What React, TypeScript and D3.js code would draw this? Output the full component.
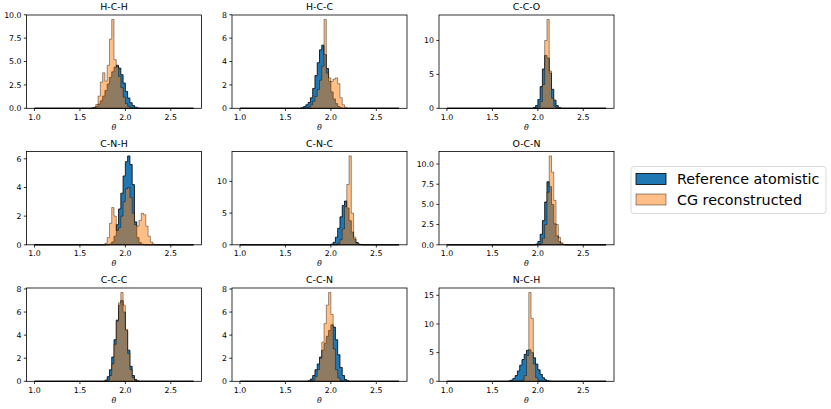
import React from "react";
import * as d3 from "d3";

// ---------- DATA ----------
const BIN_START = 1.0;
const BIN_END = 2.75;
const BIN_WIDTH = 0.025;

const xTicks = [1.0, 1.5, 2.0, 2.5];
const titles = ["H-C-H", "H-C-C", "C-C-O", "C-N-H", "C-N-C", "O-C-N", "C-C-C", "C-C-N", "N-C-H"];
const seriesNames = ["Reference atomistic", "CG reconstructed"];

// histogram densities, each list starts at the given bin left edge
const hchRef = { start: 1.625, values: [0.03, 0.08, 0.2, 0.45, 0.8, 1.3, 1.9, 2.6, 3.3, 3.9, 4.4, 4.6, 4.3, 3.6, 2.7, 1.8, 1.1, 0.6, 0.3, 0.12, 0.04] };
const hchCG = { start: 1.65, values: [0.1, 0.4, 1.3, 2.8, 3.8, 2.9, 4.6, 7.4, 9.5, 5.2, 4.4, 3.4, 2.2, 1.2, 0.5, 0.2, 0.06] };

const hccRef = { start: 1.675, values: [0.05, 0.15, 0.3, 0.5, 0.9, 1.7, 2.8, 3.9, 5.0, 5.4, 4.6, 3.4, 2.3, 1.4, 0.8, 0.4, 0.15, 0.05] };
const hccCG = { start: 1.75, values: [0.1, 0.3, 0.6, 1.0, 1.6, 2.4, 3.6, 7.6, 3.0, 2.6, 2.3, 2.5, 2.6, 2.1, 0.9, 0.3, 0.08] };

const ccoRef = { start: 1.95, values: [0.1, 0.4, 1.3, 3.2, 5.8, 7.8, 7.4, 5.2, 2.8, 1.2, 0.4, 0.1] };
const ccoCG = { start: 2.0, values: [0.2, 1.0, 3.5, 10.0, 13.1, 5.5, 1.5, 0.3, 0.05] };

const cnhRef = { start: 1.825, values: [0.05, 0.2, 0.6, 1.4, 2.5, 3.6, 4.8, 5.8, 6.2, 5.6, 4.2, 1.6, 0.5, 0.15, 0.04] };
const cnhCG = { start: 1.775, values: [0.1, 0.5, 1.5, 2.6, 2.0, 1.0, 1.2, 2.0, 3.0, 3.9, 4.0, 3.3, 2.2, 1.4, 1.3, 1.7, 2.2, 2.1, 1.3, 0.6, 0.2, 0.05] };

const cncRef = { start: 2.0, values: [0.1, 0.4, 1.2, 2.6, 4.4, 6.2, 6.9, 5.8, 3.8, 2.0, 0.9, 0.35, 0.1, 0.03] };
const cncCG = { start: 2.075, values: [0.2, 0.8, 2.5, 6.0, 9.5, 14.0, 5.0, 1.2, 0.3, 0.05] };

const ocnRef = { start: 1.975, values: [0.1, 0.4, 1.3, 3.0, 5.3, 7.8, 7.2, 5.0, 2.6, 1.1, 0.4, 0.12, 0.03] };
const ocnCG = { start: 2.025, values: [0.2, 0.8, 2.5, 6.5, 11.0, 9.0, 5.5, 2.5, 0.9, 0.25, 0.05] };

const cccRef = { start: 1.775, values: [0.1, 0.4, 1.0, 2.1, 3.6, 5.3, 6.6, 7.0, 6.0, 4.4, 2.7, 1.3, 0.5, 0.15, 0.04] };
const cccCG = { start: 1.8, values: [0.1, 0.5, 1.5, 3.2, 5.2, 6.8, 7.7, 6.6, 4.5, 2.4, 1.0, 0.3, 0.08] };

const ccnRef = { start: 1.75, values: [0.05, 0.2, 0.5, 1.0, 1.5, 2.1, 2.7, 3.3, 3.9, 4.4, 4.9, 4.7, 3.6, 2.3, 1.2, 0.5, 0.15, 0.04] };
const ccnCG = { start: 1.8, values: [0.1, 0.4, 1.0, 2.0, 3.4, 5.0, 6.6, 7.7, 5.8, 2.8, 1.0, 0.3, 0.06] };

const nchRef = { start: 1.675, values: [0.05, 0.2, 0.5, 1.0, 1.8, 2.8, 3.8, 4.7, 5.4, 5.5, 5.0, 4.1, 3.0, 2.0, 1.2, 0.6, 0.25, 0.08, 0.02] };
const nchCG = { start: 1.825, values: [0.2, 1.0, 4.5, 15.5, 11.0, 3.0, 0.6, 0.1] };

const yTicksList = [
  [0, 2.5, 5, 7.5, 10],
  [0, 2, 4, 6, 8],
  [0, 5, 10],
  [0, 2, 4, 6],
  [0, 5, 10],
  [0, 2.5, 5, 7.5, 10],
  [0, 2, 4, 6, 8],
  [0, 2, 4, 6, 8],
  [0, 5, 10, 15],
];

const refList = [hchRef, hccRef, ccoRef, cnhRef, cncRef, ocnRef, cccRef, ccnRef, nchRef];
const cgList = [hchCG, hccCG, ccoCG, cnhCG, cncCG, ocnCG, cccCG, ccnCG, nchCG];

// ---------- LAYOUT ----------
const W = 831;
const H = 409;
const colLeft = [26.5, 232, 439];
const rowTop = [15, 151.5, 288];
const PW = 175;
const PH = 93.3;
const BLUE = "#1f77b4";
const ORANGE = "#ff7f0e";
const FONT = "DejaVu Sans, sans-serif";
const TICK_FS = 7.8;
const TITLE_FS = 9.4;

type Series = { start: number; values: number[] };

function toBins(s: Series): number[] {
  const n = Math.round((BIN_END - BIN_START) / BIN_WIDTH);
  const out: number[] = [];
  for (let i = 0; i < n; i++) {
    const edge = BIN_START + i * BIN_WIDTH;
    const idx = Math.round((edge - s.start) / BIN_WIDTH);
    out.push(idx >= 0 && idx < s.values.length ? s.values[idx] : 0);
  }
  return out;
}

function stepPath(bins: number[], x: d3.ScaleLinear<number, number>, y: d3.ScaleLinear<number, number>): string {
  const pts: [number, number][] = [[x(BIN_START), y(0)]];
  bins.forEach((v, i) => {
    const e0 = BIN_START + i * BIN_WIDTH;
    const e1 = e0 + BIN_WIDTH;
    pts.push([x(e0), y(v)]);
    pts.push([x(e1), y(v)]);
  });
  pts.push([x(BIN_END), y(0)]);
  return (d3.line()(pts) || "") + "Z";
}

function Panel({ idx }: { idx: number }) {
  const col = idx % 3;
  const row = Math.floor(idx / 3);
  const left = colLeft[col];
  const top = rowTop[row];
  const ref = toBins(refList[idx]);
  const cg = toBins(cgList[idx]);
  const margin = (BIN_END - BIN_START) * 0.05;
  const x = d3.scaleLinear().domain([BIN_START - margin, BIN_END + margin]).range([left, left + PW]);
  const ymax = (d3.max([...ref, ...cg]) || 1) * 1.05;
  const y = d3.scaleLinear().domain([0, ymax]).range([top + PH, top]);
  const yt = yTicksList[idx];
  const halfStep = yt.some((t) => !Number.isInteger(t));
  const bottom = top + PH;
  return (
    <g>
      <path d={stepPath(ref, x, y)} fill={BLUE} stroke="#000" strokeWidth={0.8} strokeLinejoin="miter" />
      <path d={stepPath(cg, x, y)} fill={ORANGE} fillOpacity={0.5} stroke="#000" strokeOpacity={0.5} strokeWidth={0.8} />
      <rect x={left} y={top} width={PW} height={PH} fill="none" stroke="#000" strokeWidth={0.8} />
      {xTicks.map((t) => (
        <g key={"x" + t}>
          <line x1={x(t)} x2={x(t)} y1={bottom} y2={bottom + 2.7} stroke="#000" strokeWidth={0.8} />
          <text x={x(t)} y={bottom + 5.4 + TICK_FS * 0.76} fontSize={TICK_FS} fontFamily={FONT} textAnchor="middle" fill="#000">
            {t.toFixed(1)}
          </text>
        </g>
      ))}
      {yt.map((t) => (
        <g key={"y" + t}>
          <line x1={left - 2.7} x2={left} y1={y(t)} y2={y(t)} stroke="#000" strokeWidth={0.8} />
          <text x={left - 5} y={y(t) + TICK_FS * 0.36} fontSize={TICK_FS} fontFamily={FONT} textAnchor="end" fill="#000">
            {halfStep ? t.toFixed(1) : String(t)}
          </text>
        </g>
      ))}
      <text x={left + PW / 2} y={top - 4.7} fontSize={TITLE_FS} fontFamily={FONT} textAnchor="middle" fill="#000">
        {titles[idx]}
      </text>
      <text x={left + PW / 2} y={bottom + 21.5} fontSize={TICK_FS} fontFamily={FONT} fontStyle="italic" textAnchor="middle" fill="#000">
        θ
      </text>
    </g>
  );
}

export default function App() {
  const legendX = 631;
  const legendY = 166.5;
  const LEG_FS = 14.3;
  return (
    <svg width={W} height={H} style={{ position: "absolute", left: 0, top: 0, background: "#fff" }}>
      <rect x={0} y={0} width={W} height={H} fill="#fff" />
      {titles.map((_, i) => (
        <Panel key={i} idx={i} />
      ))}
      <g>
        <rect x={legendX} y={legendY} width={195} height={47} rx={3} fill="#fff" fillOpacity={0.8} stroke="#d0d0d0" strokeWidth={0.8} />
        <rect x={legendX + 5} y={legendY + 7} width={30} height={11} fill={BLUE} stroke="#000" strokeWidth={0.8} />
        <rect x={legendX + 5} y={legendY + 27.5} width={30} height={11} fill={ORANGE} fillOpacity={0.5} stroke="#000" strokeOpacity={0.5} strokeWidth={0.8} />
        <text x={legendX + 46} y={legendY + 12.5 + LEG_FS * 0.36} fontSize={LEG_FS} fontFamily={FONT} fill="#000">
          {seriesNames[0]}
        </text>
        <text x={legendX + 46} y={legendY + 33 + LEG_FS * 0.36} fontSize={LEG_FS} fontFamily={FONT} fill="#000">
          {seriesNames[1]}
        </text>
      </g>
    </svg>
  );
}
